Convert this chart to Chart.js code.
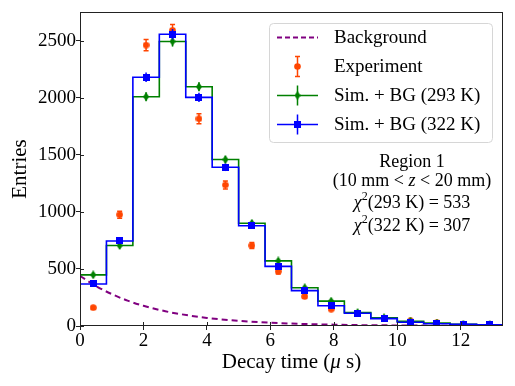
<!DOCTYPE html>
<html lang="en">
<head>
  <meta charset="UTF-8"/>
  <title>Decay time distribution - Region 1</title>
  <script src="https://cdn.jsdelivr.net/npm/chart.js@4"></script>
  <style>
    html, body { margin: 0; padding: 0; background: #fff; }
  </style>
</head>
<body>
  <canvas id="decayChart" width="515" height="386"></canvas>

  <script>
    // bins (decay time, microseconds)
    const binCenters = [0.417, 1.25, 2.083, 2.917, 3.75, 4.583, 5.417, 6.25, 7.083, 7.917, 8.75, 9.583, 10.417, 11.25, 12.083, 12.917];
    const binWidth = 0.8333;

    // measured counts
    const expCounts = [160, 975, 2460, 2590, 1815, 1235, 705, 478, 258, 148, 108, 70, 45, 28, 15, 10];
    const expErrors = [13, 31, 50, 51, 43, 35, 27, 22, 16, 12, 10, 8, 7, 5, 4, 3];

    // simulation + background
    const sim293 = [448, 705, 2008, 2492, 2095, 1458, 900, 570, 335, 218, 118, 72, 42, 26, 15, 11];
    const sim293Err = [20, 27, 40, 45, 40, 33, 27, 21, 17, 13, 10, 8, 6, 5, 4, 3];
    const sim322 = [368, 745, 2178, 2555, 2002, 1390, 878, 522, 310, 178, 112, 65, 33, 20, 14, 10];
    const sim322Err = [18, 27, 42, 46, 40, 33, 27, 21, 16, 12, 10, 8, 6, 5, 4, 3];

    // background curve
    const bgTime = [0, 0.5, 1, 1.5, 2, 2.5, 3, 4, 5, 6, 7, 8, 9, 10, 11, 12, 13.33];
    const bgCounts = [440, 350, 280, 222, 177, 141, 112, 71, 45, 29, 18, 12, 7, 5, 3, 2, 1];

    const xTicks = [0, 2, 4, 6, 8, 10, 12];
    const yTicks = [0, 500, 1000, 1500, 2000, 2500];

    const regionLines = ['Region 1', '(10 mm < z < 20 mm)', '293 K', '533', '322 K', '307'];

    const COL_EXP = '#ff4500';
    const COL_293 = '#008000';
    const COL_322 = '#0000ff';
    const COL_BG = '#800080';
    const SERIF = "'Liberation Serif', 'DejaVu Serif', serif";

    Chart.defaults.font.family = SERIF;
    Chart.defaults.color = '#000';

    function stairs(values) {
      const first = binCenters[0] - binWidth / 2;
      const last = binCenters[binCenters.length - 1] + binWidth / 2;
      const pts = [{ x: first, y: 0 }];
      values.forEach((v, i) => pts.push({ x: binCenters[i] - binWidth / 2, y: v }));
      pts.push({ x: last, y: values[values.length - 1] });
      pts.push({ x: last, y: 0 });
      return pts;
    }

    function points(values) {
      return values.map((v, i) => ({ x: binCenters[i], y: v }));
    }

    function makeMarker(w, h, draw) {
      const c = document.createElement('canvas');
      c.width = w; c.height = h;
      draw(c.getContext('2d'));
      return c;
    }

    const squareMarker = makeMarker(7, 7, g => { g.fillStyle = COL_322; g.fillRect(0, 0, 7, 7); });
    const diamondMarker = makeMarker(6, 9, g => {
      g.fillStyle = COL_293;
      g.beginPath(); g.moveTo(3, 0); g.lineTo(6, 4.5); g.lineTo(3, 9); g.lineTo(0, 4.5); g.closePath(); g.fill();
    });
    const circleMarker = makeMarker(7, 7, g => {
      g.fillStyle = COL_EXP; g.beginPath(); g.arc(3.5, 3.5, 3.3, 0, Math.PI * 2); g.fill();
    });

    const decor = {
      id: 'decor',
      beforeDatasetDraw(chart, args) {
        const ds = chart.data.datasets[args.index];
        if (!ds.errors) return;
        const { ctx, scales: { x, y } } = chart;
        ctx.save();
        ctx.strokeStyle = ds.errorColor;
        ctx.lineWidth = 1.5;
        ds.data.forEach((p, i) => {
          const px = x.getPixelForValue(p.x);
          const lo = y.getPixelForValue(p.y - ds.errors[i]);
          const hi = y.getPixelForValue(p.y + ds.errors[i]);
          ctx.beginPath();
          ctx.moveTo(px, lo); ctx.lineTo(px, hi);
          if (ds.caps) {
            ctx.moveTo(px - 2.5, lo); ctx.lineTo(px + 2.5, lo);
            ctx.moveTo(px - 2.5, hi); ctx.lineTo(px + 2.5, hi);
          }
          ctx.stroke();
        });
        ctx.restore();
      },
      afterDraw(chart) {
        const { ctx, chartArea: a, scales: { x, y } } = chart;
        ctx.save();

        // frame + inward ticks
        ctx.strokeStyle = '#222';
        ctx.lineWidth = 1;
        ctx.strokeRect(a.left + 0.5, a.top + 0.5, a.right - a.left - 1, a.bottom - a.top - 1);
        ctx.beginPath();
        xTicks.forEach(t => {
          const px = Math.round(x.getPixelForValue(t)) + 0.5;
          ctx.moveTo(px, a.bottom); ctx.lineTo(px, a.bottom - 4);
        });
        yTicks.forEach(t => {
          const py = Math.round(y.getPixelForValue(t)) + 0.5;
          ctx.moveTo(a.left, py); ctx.lineTo(a.left + 4, py);
        });
        ctx.stroke();

        function rich(parts, cx, baseY) {
          let w = 0;
          parts.forEach(p => { ctx.font = p[1]; w += ctx.measureText(p[0]).width; });
          let px = cx - w / 2;
          ctx.textAlign = 'left';
          ctx.textBaseline = 'alphabetic';
          ctx.fillStyle = '#000';
          parts.forEach(p => {
            ctx.font = p[1];
            ctx.fillText(p[0], px, baseY + (p[2] || 0));
            px += ctx.measureText(p[0]).width;
          });
        }

        // x axis title with italic mu
        rich([['Decay time (', `21px ${SERIF}`], ['\u03bc', `italic 21px ${SERIF}`], [' s)', `21px ${SERIF}`]],
          (a.left + a.right) / 2, 368);

        // legend
        const lx = 269, ly = 23, lw = 223, lh = 119;
        ctx.beginPath();
        ctx.roundRect(lx + 0.5, ly + 0.5, lw, lh, 4);
        ctx.fillStyle = 'rgba(255,255,255,0.85)';
        ctx.fill();
        ctx.strokeStyle = '#d6d6d6';
        ctx.stroke();

        const rows = [
          { label: 'Background', kind: 'bg' },
          { label: 'Experiment', kind: 'exp' },
          { label: 'Sim. + BG (293 K)', kind: 'g' },
          { label: 'Sim. + BG (322 K)', kind: 'b' }
        ];
        const h0 = 277, h1 = 318, hc = (h0 + h1) / 2;
        rows.forEach((r, i) => {
          const ry = 37.5 + i * 29;
          ctx.lineWidth = 1.5;
          if (r.kind === 'bg') {
            ctx.strokeStyle = COL_BG; ctx.lineWidth = 2;
            ctx.setLineDash([5, 3]);
            ctx.beginPath(); ctx.moveTo(h0, ry); ctx.lineTo(h1, ry); ctx.stroke();
            ctx.setLineDash([]);
          } else if (r.kind === 'exp') {
            ctx.strokeStyle = COL_EXP;
            ctx.beginPath();
            ctx.moveTo(hc, ry - 10); ctx.lineTo(hc, ry + 10);
            ctx.moveTo(hc - 2.5, ry - 10); ctx.lineTo(hc + 2.5, ry - 10);
            ctx.moveTo(hc - 2.5, ry + 10); ctx.lineTo(hc + 2.5, ry + 10);
            ctx.stroke();
            ctx.drawImage(circleMarker, hc - 3.5, ry - 3.5);
          } else {
            const col = r.kind === 'g' ? COL_293 : COL_322;
            ctx.strokeStyle = col;
            ctx.beginPath();
            ctx.moveTo(h0, ry); ctx.lineTo(h1, ry);
            ctx.moveTo(hc, ry - 10); ctx.lineTo(hc, ry + 10);
            ctx.stroke();
            const m = r.kind === 'g' ? diamondMarker : squareMarker;
            ctx.drawImage(m, hc - m.width / 2, ry - m.height / 2);
          }
          ctx.fillStyle = '#000';
          ctx.font = '19px ' + SERIF;
          ctx.textBaseline = 'middle';
          ctx.textAlign = 'left';
          ctx.fillText(r.label, 334, ry + 1);
        });

        // region annotation
        const cx = 412;
        const reg = `18px ${SERIF}`, ital = `italic 18px ${SERIF}`, sup = `12px ${SERIF}`;
        rich([[regionLines[0], reg]], cx, 167);
        rich([['(10 mm < ', reg], ['z', ital], [' < 20 mm)', reg]], cx, 186);
        rich([['\u03c7', ital], ['2', sup, -8], ['(' + regionLines[2] + ') = ' + regionLines[3], reg]], cx, 208);
        rich([['\u03c7', ital], ['2', sup, -8], ['(' + regionLines[4] + ') = ' + regionLines[5], reg]], cx, 231);

        ctx.restore();
      }
    };

    const ctx = document.getElementById('decayChart').getContext('2d');
    new Chart(ctx, {
      type: 'line',
      data: {
        datasets: [
          {
            label: 'Sim. + BG (322 K)',
            data: points(sim322),
            errors: sim322Err, errorColor: COL_322,
            showLine: false,
            pointStyle: squareMarker, pointRadius: 4
          },
          {
            label: 'step 322',
            data: stairs(sim322),
            stepped: 'before',
            borderColor: COL_322, borderWidth: 1.6,
            pointRadius: 0, fill: false
          },
          {
            label: 'Sim. + BG (293 K)',
            data: points(sim293),
            errors: sim293Err, errorColor: COL_293,
            showLine: false,
            pointStyle: diamondMarker, pointRadius: 4
          },
          {
            label: 'step 293',
            data: stairs(sim293),
            stepped: 'before',
            borderColor: COL_293, borderWidth: 1.6,
            pointRadius: 0, fill: false
          },
          {
            label: 'Experiment',
            data: points(expCounts),
            errors: expErrors, errorColor: COL_EXP, caps: true,
            showLine: false,
            pointStyle: circleMarker, pointRadius: 4
          },
          {
            label: 'Background',
            data: bgTime.map((t, i) => ({ x: t, y: bgCounts[i] })),
            borderColor: COL_BG, borderWidth: 2, borderDash: [6, 4],
            cubicInterpolationMode: 'monotone',
            pointRadius: 0, fill: false
          }
        ]
      },
      options: {
        responsive: false,
        animation: false,
        events: [],
        layout: { padding: { left: 0, right: 12, top: 12, bottom: 0 } },
        plugins: { legend: { display: false }, tooltip: { enabled: false } },
        scales: {
          x: {
            type: 'linear',
            min: 0, max: binCenters[binCenters.length - 1] + binWidth / 2,
            afterBuildTicks: s => { s.ticks = xTicks.map(v => ({ value: v })); },
            afterFit: s => { s.height = 60; },
            grid: { drawOnChartArea: false, tickLength: 4, color: '#222' },
            border: { display: false },
            ticks: { font: { size: 19 }, padding: 0, maxRotation: 0, callback: v => String(v) },
            title: { display: false }
          },
          y: {
            min: 0, max: 2750,
            afterBuildTicks: s => { s.ticks = yTicks.map(v => ({ value: v })); },
            afterFit: s => { s.width = 80; },
            grid: { drawOnChartArea: false, tickLength: 4, color: '#222' },
            border: { display: false },
            ticks: { font: { size: 19 }, padding: 0, callback: v => String(v) },
            title: { display: true, text: 'Entries', font: { size: 21 }, padding: { top: 8, bottom: 0 } }
          }
        }
      },
      plugins: [decor]
    });
  </script>
</body>
</html>
